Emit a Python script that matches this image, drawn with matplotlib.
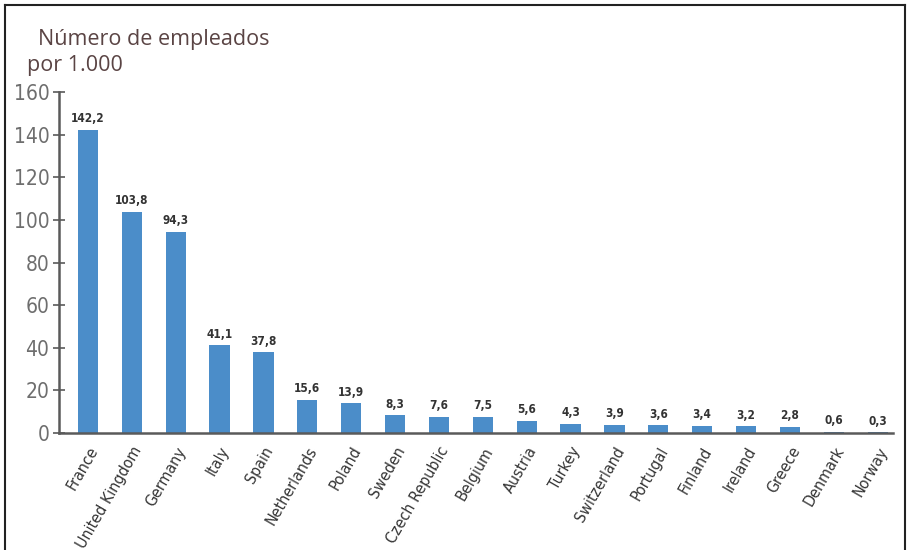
import matplotlib.pyplot as plt
from matplotlib.lines import Line2D

# datos
countries = ['France', 'United Kingdom', 'Germany', 'Italy', 'Spain', 'Netherlands',
             'Poland', 'Sweden', 'Czech Republic', 'Belgium', 'Austria', 'Turkey',
             'Switzerland', 'Portugal', 'Finland', 'Ireland', 'Greece', 'Denmark', 'Norway']
values = [142.2, 103.8, 94.3, 41.1, 37.8, 15.6, 13.9, 8.3, 7.6, 7.5, 5.6, 4.3,
          3.9, 3.6, 3.4, 3.2, 2.8, 0.6, 0.3]
yticks = [0, 20, 40, 60, 80, 100, 120, 140, 160]

narrow = ['DejaVu Sans']
bar_color = '#4b8dc9'

fig = plt.figure(figsize=(9.08, 5.5), dpi=100)
ax = fig.add_axes([0.065, 0.2127, 0.918, 0.62])

x = list(range(len(countries)))
ax.bar(x, values, width=0.46, color=bar_color, zorder=2)

# etiquetas de valor
for xi, v in zip(x, values):
    ax.text(xi, v + 2.2, f'{v:.1f}'.replace('.', ','), ha='center', va='bottom',
            fontsize=8.5, fontweight='bold', color='#333333', family=narrow,
            fontstretch='condensed')

ax.set_xlim(-0.66, 18.34)
ax.set_ylim(0, 160)
ax.set_yticks(yticks)
ax.set_yticklabels([str(t) for t in yticks], family=narrow, fontsize=15,
                   color='#6e6e6e', fontstretch='condensed')
ax.set_xticks(x)
ax.set_xticklabels(countries, rotation=60, ha='right', rotation_mode='anchor',
                   family=narrow, fontsize=11.5, color='#353535', fontstretch='condensed')

for s in ['top', 'right']:
    ax.spines[s].set_visible(False)
for s in ['left', 'bottom']:
    ax.spines[s].set_color('#5a5a5a')
    ax.spines[s].set_linewidth(1.8)
ax.tick_params(axis='y', direction='inout', length=8, width=1.2, color='#5a5a5a', pad=3)
ax.tick_params(axis='x', length=0, pad=8)

fig.text(0.042, 0.91, 'Número de empleados', fontsize=15.5, color='#5a4444',
         family='Open Sans', va='bottom')
fig.text(0.030, 0.862, 'por 1.000', fontsize=15.5, color='#5a4444',
         family='Open Sans', va='bottom')

# marco
fig.add_artist(Line2D([0.006, 0.006], [0, 0.991], color='#222222', lw=1.5, transform=fig.transFigure))
fig.add_artist(Line2D([0.006, 0.997], [0.991, 0.991], color='#222222', lw=1.5, transform=fig.transFigure))
fig.add_artist(Line2D([0.997, 0.997], [0, 0.991], color='#222222', lw=1.5, transform=fig.transFigure))

fig.savefig('out.png', dpi=100)
